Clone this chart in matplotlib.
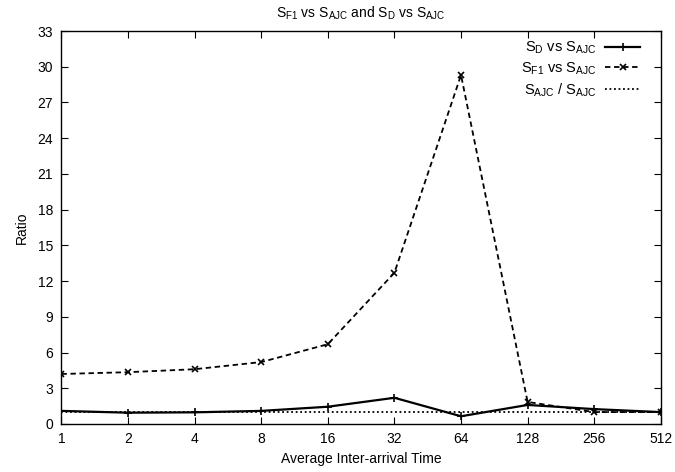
import numpy as np
import matplotlib
matplotlib.use("Agg")
import matplotlib.pyplot as plt

plt.rcParams['font.family'] = ['Liberation Sans', 'DejaVu Sans']
plt.rcParams['mathtext.fontset'] = 'custom'
plt.rcParams['mathtext.rm'] = 'Liberation Sans'
plt.rcParams['mathtext.it'] = 'Liberation Sans'
plt.rcParams['font.size'] = 10

# data
arrival = [1, 2, 4, 8, 16, 32, 64, 128, 256, 512]
s_d = [1.1, 0.95, 0.98, 1.1, 1.45, 2.2, 0.65, 1.6, 1.25, 1.0]
s_f1 = [4.2, 4.35, 4.6, 5.2, 6.7, 12.7, 29.3, 1.85, 1.0, 1.0]
s_ajc = [1.0] * len(arrival)
yticks = list(range(0, 34, 3))

fig = plt.figure(figsize=(6.75, 4.72), dpi=100)
ax = fig.add_axes([0.091, 0.1017, 0.888, 0.8326])

ax.plot(arrival, s_d, color='black', lw=1.6, marker='+', ms=6, mew=1.2,
        label=r'$\mathrm{S_{D}}$ vs $\mathrm{S_{AJC}}$')
ax.plot(arrival, s_f1, color='black', lw=1.3, ls=(0, (3, 2)), marker='x', ms=5, mew=1.2,
        label=r'$\mathrm{S_{F1}}$ vs $\mathrm{S_{AJC}}$')
ax.plot(arrival, s_ajc, color='black', lw=1.3, ls=(0, (1, 1.5)),
        label=r'$\mathrm{S_{AJC}}$ / $\mathrm{S_{AJC}}$')

ax.set_xscale('log', base=2)
ax.set_xlim(1, 512)
ax.set_xticks(arrival)
ax.set_xticklabels([str(a) for a in arrival])
ax.minorticks_off()
ax.set_ylim(0, 33)
ax.set_yticks(yticks)

ax.tick_params(direction='in', top=True, right=True, length=5, width=0.8, pad=6)
for s in ax.spines.values():
    s.set_linewidth(1.0)

ax.set_xlabel('Average Inter-arrival Time', labelpad=4)
ax.set_ylabel('Ratio', labelpad=6)
ax.set_title(r'$\mathrm{S_{F1}}$ vs $\mathrm{S_{AJC}}$ and $\mathrm{S_{D}}$ vs $\mathrm{S_{AJC}}$',
             fontsize=10, pad=10)

ax.legend(loc='upper right', frameon=False, markerfirst=False, handlelength=2.4,
          borderaxespad=1.0, labelspacing=0.3, handletextpad=0.6, fontsize=10.5,
          bbox_to_anchor=(1.0, 1.03))

fig.savefig('out.png', dpi=100)
